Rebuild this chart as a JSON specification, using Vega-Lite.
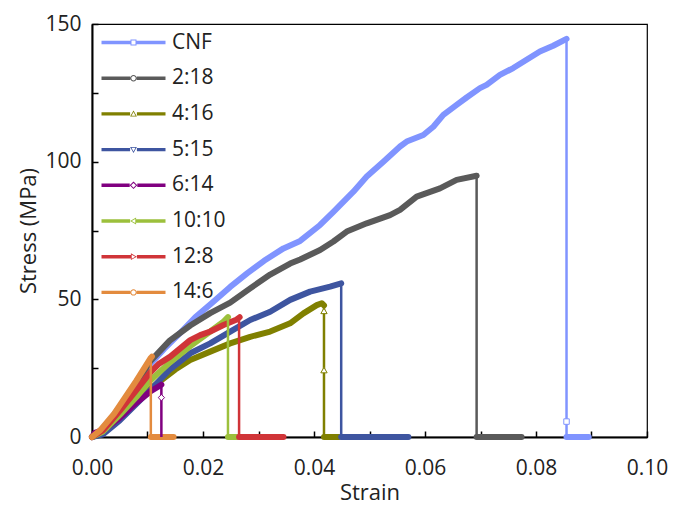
{
  "$schema": "https://vega.github.io/schema/vega-lite/v6.json",
  "width": 555,
  "height": 413,
  "autosize": {"type": "none"},
  "padding": {"left": 92, "top": 24, "right": 27, "bottom": 71},
  "background": "white",
  "config": {
    "view": {"stroke": "#000", "strokeWidth": 1.2},
    "font": "Open Sans",
    "axis": {
      "grid": false,
      "domainColor": "#000",
      "domainWidth": 2,
      "tickColor": "#000",
      "tickWidth": 1.5,
      "tickSize": -6,
      "labelFlush": false,
      "labelFont": "Open Sans",
      "labelFontSize": 21,
      "labelColor": "#222",
      "titleFont": "Open Sans",
      "titleFontSize": 22,
      "titleFontWeight": "normal",
      "titleColor": "#222"
    },
    "legend": {
      "orient": "none",
      "legendX": 31,
      "legendY": 8,
      "padding": 0,
      "symbolOpacity": 1,
      "symbolStrokeWidth": 0,
      "symbolSize": 400,
      "labelFont": "Open Sans",
      "labelFontSize": 21,
      "labelColor": "#222",
      "labelOffset": 28,
      "rowPadding": 13.7
    }
  },
  "datasets": {
    "curves": [
      {"series": "CNF", "phase": "load", "strain": 0, "stress": 0},
      {"series": "CNF", "phase": "load", "strain": 0.001, "stress": 1.2},
      {"series": "CNF", "phase": "load", "strain": 0.003, "stress": 5.5},
      {"series": "CNF", "phase": "load", "strain": 0.005, "stress": 11},
      {"series": "CNF", "phase": "load", "strain": 0.0075, "stress": 18},
      {"series": "CNF", "phase": "load", "strain": 0.0105, "stress": 26.5},
      {"series": "CNF", "phase": "load", "strain": 0.013, "stress": 32},
      {"series": "CNF", "phase": "load", "strain": 0.016, "stress": 38},
      {"series": "CNF", "phase": "load", "strain": 0.0186, "stress": 43.5},
      {"series": "CNF", "phase": "load", "strain": 0.0215, "stress": 48.5},
      {"series": "CNF", "phase": "load", "strain": 0.0249, "stress": 54.5},
      {"series": "CNF", "phase": "load", "strain": 0.028, "stress": 59.5},
      {"series": "CNF", "phase": "load", "strain": 0.031, "stress": 64},
      {"series": "CNF", "phase": "load", "strain": 0.0345, "stress": 68.5},
      {"series": "CNF", "phase": "load", "strain": 0.0375, "stress": 71.2},
      {"series": "CNF", "phase": "load", "strain": 0.0411, "stress": 77},
      {"series": "CNF", "phase": "load", "strain": 0.0435, "stress": 81.8},
      {"series": "CNF", "phase": "load", "strain": 0.0471, "stress": 89.1},
      {"series": "CNF", "phase": "load", "strain": 0.0495, "stress": 94.6},
      {"series": "CNF", "phase": "load", "strain": 0.0525, "stress": 100},
      {"series": "CNF", "phase": "load", "strain": 0.0555, "stress": 105.5},
      {"series": "CNF", "phase": "load", "strain": 0.0567, "stress": 107.3},
      {"series": "CNF", "phase": "load", "strain": 0.0597, "stress": 109.7},
      {"series": "CNF", "phase": "load", "strain": 0.0615, "stress": 112.7},
      {"series": "CNF", "phase": "load", "strain": 0.0633, "stress": 117},
      {"series": "CNF", "phase": "load", "strain": 0.0657, "stress": 120.6},
      {"series": "CNF", "phase": "load", "strain": 0.0675, "stress": 123.3},
      {"series": "CNF", "phase": "load", "strain": 0.0699, "stress": 126.7},
      {"series": "CNF", "phase": "load", "strain": 0.0711, "stress": 127.9},
      {"series": "CNF", "phase": "load", "strain": 0.0735, "stress": 131.5},
      {"series": "CNF", "phase": "load", "strain": 0.0759, "stress": 134},
      {"series": "CNF", "phase": "load", "strain": 0.0783, "stress": 137},
      {"series": "CNF", "phase": "load", "strain": 0.0807, "stress": 140},
      {"series": "CNF", "phase": "load", "strain": 0.0831, "stress": 142.1},
      {"series": "CNF", "phase": "load", "strain": 0.0855, "stress": 144.6},
      {"series": "CNF", "phase": "drop", "strain": 0.0855, "stress": 144.6},
      {"series": "CNF", "phase": "drop", "strain": 0.0855, "stress": 0},
      {"series": "CNF", "phase": "tail", "strain": 0.0855, "stress": 0},
      {"series": "CNF", "phase": "tail", "strain": 0.0895, "stress": 0},

      {"series": "2:18", "phase": "load", "strain": 0, "stress": 0},
      {"series": "2:18", "phase": "load", "strain": 0.001, "stress": 1},
      {"series": "2:18", "phase": "load", "strain": 0.003, "stress": 5.5},
      {"series": "2:18", "phase": "load", "strain": 0.005, "stress": 10.5},
      {"series": "2:18", "phase": "load", "strain": 0.0075, "stress": 17.5},
      {"series": "2:18", "phase": "load", "strain": 0.0105, "stress": 27.5},
      {"series": "2:18", "phase": "load", "strain": 0.014, "stress": 35},
      {"series": "2:18", "phase": "load", "strain": 0.0177, "stress": 40.5},
      {"series": "2:18", "phase": "load", "strain": 0.0213, "stress": 45},
      {"series": "2:18", "phase": "load", "strain": 0.0249, "stress": 48.8},
      {"series": "2:18", "phase": "load", "strain": 0.0285, "stress": 54},
      {"series": "2:18", "phase": "load", "strain": 0.0321, "stress": 59},
      {"series": "2:18", "phase": "load", "strain": 0.0357, "stress": 63},
      {"series": "2:18", "phase": "load", "strain": 0.0375, "stress": 64.5},
      {"series": "2:18", "phase": "load", "strain": 0.0411, "stress": 67.9},
      {"series": "2:18", "phase": "load", "strain": 0.0435, "stress": 71},
      {"series": "2:18", "phase": "load", "strain": 0.0459, "stress": 74.6},
      {"series": "2:18", "phase": "load", "strain": 0.0495, "stress": 77.6},
      {"series": "2:18", "phase": "load", "strain": 0.0537, "stress": 80.6},
      {"series": "2:18", "phase": "load", "strain": 0.0555, "stress": 82.5},
      {"series": "2:18", "phase": "load", "strain": 0.0585, "stress": 87.3},
      {"series": "2:18", "phase": "load", "strain": 0.0627, "stress": 90.3},
      {"series": "2:18", "phase": "load", "strain": 0.0657, "stress": 93.4},
      {"series": "2:18", "phase": "load", "strain": 0.0693, "stress": 94.9},
      {"series": "2:18", "phase": "drop", "strain": 0.0693, "stress": 94.9},
      {"series": "2:18", "phase": "drop", "strain": 0.0693, "stress": 0},
      {"series": "2:18", "phase": "tail", "strain": 0.0693, "stress": 0},
      {"series": "2:18", "phase": "tail", "strain": 0.0774, "stress": 0},

      {"series": "4:16", "phase": "load", "strain": 0, "stress": 0},
      {"series": "4:16", "phase": "load", "strain": 0.002, "stress": 1.5},
      {"series": "4:16", "phase": "load", "strain": 0.005, "stress": 6.5},
      {"series": "4:16", "phase": "load", "strain": 0.008, "stress": 12.5},
      {"series": "4:16", "phase": "load", "strain": 0.0105, "stress": 17.5},
      {"series": "4:16", "phase": "load", "strain": 0.0124, "stress": 20.5},
      {"series": "4:16", "phase": "load", "strain": 0.015, "stress": 24.5},
      {"series": "4:16", "phase": "load", "strain": 0.0177, "stress": 28},
      {"series": "4:16", "phase": "load", "strain": 0.0213, "stress": 31},
      {"series": "4:16", "phase": "load", "strain": 0.0249, "stress": 34},
      {"series": "4:16", "phase": "load", "strain": 0.0285, "stress": 36.4},
      {"series": "4:16", "phase": "load", "strain": 0.0321, "stress": 38.3},
      {"series": "4:16", "phase": "load", "strain": 0.0357, "stress": 41.3},
      {"series": "4:16", "phase": "load", "strain": 0.0381, "stress": 44.9},
      {"series": "4:16", "phase": "load", "strain": 0.0405, "stress": 47.9},
      {"series": "4:16", "phase": "load", "strain": 0.0414, "stress": 48.6},
      {"series": "4:16", "phase": "load", "strain": 0.0418, "stress": 47.8},
      {"series": "4:16", "phase": "drop", "strain": 0.0418, "stress": 47.8},
      {"series": "4:16", "phase": "drop", "strain": 0.0418, "stress": 0},
      {"series": "4:16", "phase": "tail", "strain": 0.0418, "stress": 0},
      {"series": "4:16", "phase": "tail", "strain": 0.0445, "stress": 0},

      {"series": "5:15", "phase": "load", "strain": 0, "stress": 0},
      {"series": "5:15", "phase": "load", "strain": 0.002, "stress": 1},
      {"series": "5:15", "phase": "load", "strain": 0.005, "stress": 6},
      {"series": "5:15", "phase": "load", "strain": 0.008, "stress": 12},
      {"series": "5:15", "phase": "load", "strain": 0.0105, "stress": 17},
      {"series": "5:15", "phase": "load", "strain": 0.014, "stress": 24.5},
      {"series": "5:15", "phase": "load", "strain": 0.0177, "stress": 30.4},
      {"series": "5:15", "phase": "load", "strain": 0.0213, "stress": 34},
      {"series": "5:15", "phase": "load", "strain": 0.0249, "stress": 38.3},
      {"series": "5:15", "phase": "load", "strain": 0.0285, "stress": 42.5},
      {"series": "5:15", "phase": "load", "strain": 0.0321, "stress": 45.5},
      {"series": "5:15", "phase": "load", "strain": 0.0357, "stress": 49.8},
      {"series": "5:15", "phase": "load", "strain": 0.0393, "stress": 52.8},
      {"series": "5:15", "phase": "load", "strain": 0.0429, "stress": 54.6},
      {"series": "5:15", "phase": "load", "strain": 0.0449, "stress": 55.8},
      {"series": "5:15", "phase": "drop", "strain": 0.0449, "stress": 55.8},
      {"series": "5:15", "phase": "drop", "strain": 0.0449, "stress": 0},
      {"series": "5:15", "phase": "tail", "strain": 0.0449, "stress": 0},
      {"series": "5:15", "phase": "tail", "strain": 0.057, "stress": 0},

      {"series": "6:14", "phase": "load", "strain": 0, "stress": 0},
      {"series": "6:14", "phase": "load", "strain": 0.0005, "stress": 1.5},
      {"series": "6:14", "phase": "load", "strain": 0.002, "stress": 2.5},
      {"series": "6:14", "phase": "load", "strain": 0.005, "stress": 7},
      {"series": "6:14", "phase": "load", "strain": 0.008, "stress": 12.5},
      {"series": "6:14", "phase": "load", "strain": 0.0105, "stress": 16.5},
      {"series": "6:14", "phase": "load", "strain": 0.0125, "stress": 19},
      {"series": "6:14", "phase": "drop", "strain": 0.0125, "stress": 19},
      {"series": "6:14", "phase": "drop", "strain": 0.0125, "stress": 0},
      {"series": "6:14", "phase": "tail", "strain": 0.0125, "stress": 0},
      {"series": "6:14", "phase": "tail", "strain": 0.0135, "stress": 0},

      {"series": "10:10", "phase": "load", "strain": 0, "stress": 0},
      {"series": "10:10", "phase": "load", "strain": 0.002, "stress": 2},
      {"series": "10:10", "phase": "load", "strain": 0.005, "stress": 8},
      {"series": "10:10", "phase": "load", "strain": 0.008, "stress": 14.5},
      {"series": "10:10", "phase": "load", "strain": 0.0105, "stress": 20.5},
      {"series": "10:10", "phase": "load", "strain": 0.014, "stress": 27},
      {"series": "10:10", "phase": "load", "strain": 0.0177, "stress": 33},
      {"series": "10:10", "phase": "load", "strain": 0.0213, "stress": 38.3},
      {"series": "10:10", "phase": "load", "strain": 0.0237, "stress": 41.9},
      {"series": "10:10", "phase": "load", "strain": 0.0245, "stress": 43.5},
      {"series": "10:10", "phase": "drop", "strain": 0.0245, "stress": 43.5},
      {"series": "10:10", "phase": "drop", "strain": 0.0245, "stress": 0},
      {"series": "10:10", "phase": "tail", "strain": 0.0245, "stress": 0},
      {"series": "10:10", "phase": "tail", "strain": 0.0262, "stress": 0},

      {"series": "12:8", "phase": "load", "strain": 0, "stress": 0},
      {"series": "12:8", "phase": "load", "strain": 0.002, "stress": 2.5},
      {"series": "12:8", "phase": "load", "strain": 0.005, "stress": 9.5},
      {"series": "12:8", "phase": "load", "strain": 0.008, "stress": 17},
      {"series": "12:8", "phase": "load", "strain": 0.0105, "stress": 23.5},
      {"series": "12:8", "phase": "load", "strain": 0.012, "stress": 26.5},
      {"series": "12:8", "phase": "load", "strain": 0.0141, "stress": 29.2},
      {"series": "12:8", "phase": "load", "strain": 0.0177, "stress": 35.2},
      {"series": "12:8", "phase": "load", "strain": 0.0195, "stress": 37},
      {"series": "12:8", "phase": "load", "strain": 0.0213, "stress": 38.3},
      {"series": "12:8", "phase": "load", "strain": 0.0237, "stress": 40.7},
      {"series": "12:8", "phase": "load", "strain": 0.0261, "stress": 42.7},
      {"series": "12:8", "phase": "load", "strain": 0.0266, "stress": 43.5},
      {"series": "12:8", "phase": "drop", "strain": 0.0265, "stress": 43.2},
      {"series": "12:8", "phase": "drop", "strain": 0.0265, "stress": 0},
      {"series": "12:8", "phase": "tail", "strain": 0.0265, "stress": 0},
      {"series": "12:8", "phase": "tail", "strain": 0.0345, "stress": 0},

      {"series": "14:6", "phase": "load", "strain": 0, "stress": 0},
      {"series": "14:6", "phase": "load", "strain": 0.0015, "stress": 2.5},
      {"series": "14:6", "phase": "load", "strain": 0.004, "stress": 8.5},
      {"series": "14:6", "phase": "load", "strain": 0.006, "stress": 14.5},
      {"series": "14:6", "phase": "load", "strain": 0.008, "stress": 20.5},
      {"series": "14:6", "phase": "load", "strain": 0.0105, "stress": 28.5},
      {"series": "14:6", "phase": "load", "strain": 0.0108, "stress": 29.2},
      {"series": "14:6", "phase": "drop", "strain": 0.0106, "stress": 29},
      {"series": "14:6", "phase": "drop", "strain": 0.0106, "stress": 0},
      {"series": "14:6", "phase": "tail", "strain": 0.0106, "stress": 0},
      {"series": "14:6", "phase": "tail", "strain": 0.0147, "stress": 0}
    ],
    "markers": [
      {"series": "CNF", "strain": 0.0855, "stress": 5.6},
      {"series": "4:16", "strain": 0.0418, "stress": 45.8},
      {"series": "4:16", "strain": 0.0418, "stress": 24.3},
      {"series": "6:14", "strain": 0.0125, "stress": 14.3}
    ]
  },
  "data": {"name": "curves"},
  "encoding": {
    "x": {
      "field": "strain",
      "type": "quantitative",
      "scale": {"domain": [0, 0.1], "nice": false},
      "axis": {
        "title": "Strain",
        "values": [0, 0.01, 0.02, 0.03, 0.04, 0.05, 0.06, 0.07, 0.08, 0.09, 0.1],
        "labelExpr": "round(datum.value*100) % 2 == 0 ? format(datum.value, '.2f') : ''",
        "labelPadding": 26,
        "titlePadding": 4
      }
    },
    "y": {
      "field": "stress",
      "type": "quantitative",
      "scale": {"domain": [0, 150], "nice": false},
      "axis": {
        "title": "Stress (MPa)",
        "values": [0, 25, 50, 75, 100, 125, 150],
        "labelExpr": "datum.value % 50 == 0 ? datum.value : ''",
        "labelPadding": 17,
        "titlePadding": 4
      }
    },
    "color": {
      "field": "series",
      "type": "nominal",
      "title": null,
      "scale": {
        "domain": ["CNF", "2:18", "4:16", "5:15", "6:14", "10:10", "12:8", "14:6"],
        "range": ["#8094FF", "#5A5A5A", "#808000", "#3E55A0", "#800080", "#9CC03C", "#D03438", "#E38B3E"]
      }
    }
  },
  "layer": [
    {
      "mark": {"type": "point", "filled": true, "opacity": 0},
      "encoding": {
        "shape": {
          "field": "series",
          "type": "nominal",
          "title": null,
          "scale": {
            "domain": ["CNF", "2:18", "4:16", "5:15", "6:14", "10:10", "12:8", "14:6"],
            "range": [
              "M-3.2,-0.17H-0.3V0.17H-3.2Z M0.3,-0.17H3.2V0.17H0.3Z M-0.3,-0.3H0.3V0.3H-0.3Z M-0.2,-0.2V0.2H0.2V-0.2Z",
              "M-3.2,-0.17H-0.32V0.17H-3.2Z M0.32,-0.17H3.2V0.17H0.32Z M0.32,0A0.32,0.32,0,1,1,-0.32,0A0.32,0.32,0,1,1,0.32,0Z M0.22,0A0.22,0.22,0,1,0,-0.22,0A0.22,0.22,0,1,0,0.22,0Z",
              "M-3.2,-0.17H-0.34V0.17H-3.2Z M0.34,-0.17H3.2V0.17H0.34Z M0,-0.34L0.34,0.26L-0.34,0.26Z M0,-0.18L-0.204,0.18L0.204,0.18Z",
              "M-3.2,-0.17H-0.34V0.17H-3.2Z M0.34,-0.17H3.2V0.17H0.34Z M0,0.34L-0.34,-0.26L0.34,-0.26Z M0,0.18L0.204,-0.18L-0.204,-0.18Z",
              "M-3.2,-0.17H-0.38V0.17H-3.2Z M0.38,-0.17H3.2V0.17H0.38Z M0,-0.38L0.38,0L0,0.38L-0.38,0Z M0,-0.24L-0.24,0L0,0.24L0.24,0Z",
              "M-3.2,-0.17H-0.34V0.17H-3.2Z M0.26,-0.17H3.2V0.17H0.26Z M-0.34,0L0.26,-0.34L0.26,0.34Z M-0.18,0L0.18,0.204L0.18,-0.204Z",
              "M-3.2,-0.17H-0.26V0.17H-3.2Z M0.34,-0.17H3.2V0.17H0.34Z M0.34,0L-0.26,0.34L-0.26,-0.34Z M0.18,0L-0.18,-0.204L-0.18,0.204Z",
              "M-3.2,-0.17H-0.32V0.17H-3.2Z M0.32,-0.17H3.2V0.17H0.32Z M0.32,0A0.32,0.32,0,1,1,-0.32,0A0.32,0.32,0,1,1,0.32,0Z M0.22,0A0.22,0.22,0,1,0,-0.22,0A0.22,0.22,0,1,0,0.22,0Z"
            ]
          }
        }
      }
    },
    {
      "transform": [{"filter": "datum.phase !== 'drop'"}],
      "mark": {"type": "line", "strokeWidth": 6, "strokeCap": "round", "strokeJoin": "round"},
      "encoding": {"detail": {"field": "phase", "type": "nominal"}}
    },
    {
      "transform": [{"filter": "datum.phase === 'drop'"}],
      "mark": {"type": "line", "strokeWidth": 2.5},
      "encoding": {}
    },
    {
      "data": {"name": "markers"},
      "transform": [{"filter": "datum.series === 'CNF'"}],
      "mark": {"type": "point", "shape": "square", "size": 30, "filled": false, "fill": "white", "strokeWidth": 1, "opacity": 1},
      "encoding": {}
    },
    {
      "data": {"name": "markers"},
      "transform": [{"filter": "datum.series === '4:16'"}],
      "mark": {"type": "point", "shape": "triangle-up", "size": 40, "filled": false, "fill": "white", "strokeWidth": 1, "opacity": 1},
      "encoding": {}
    },
    {
      "data": {"name": "markers"},
      "transform": [{"filter": "datum.series === '6:14'"}],
      "mark": {"type": "point", "shape": "diamond", "size": 40, "filled": false, "fill": "white", "strokeWidth": 1, "opacity": 1},
      "encoding": {}
    }
  ]
}
